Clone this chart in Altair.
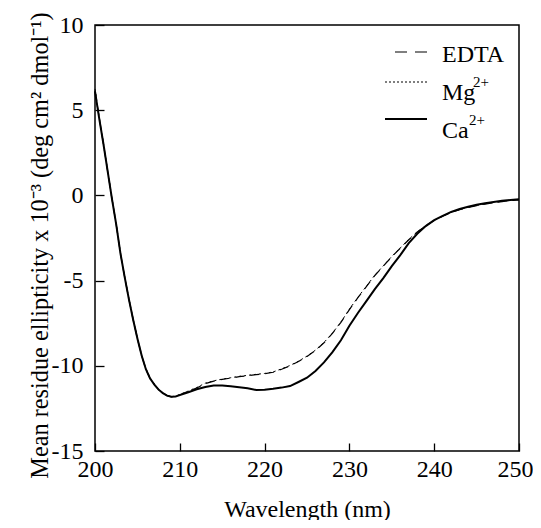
import altair as alt
import pandas as pd

# ---------------- data ----------------
wavelength = [200, 200.5, 201, 201.5, 202, 202.5, 203, 203.5, 204, 204.5,
              205, 205.5, 206, 206.5, 207, 207.5, 208, 208.5, 209, 209.5,
              210, 211, 212, 213, 214, 215, 216, 217, 218, 219,
              220, 221, 222, 223, 224, 225, 226, 227, 228, 229,
              230, 231, 232, 233, 234, 235, 236, 237, 238, 239,
              240, 241, 242, 243, 244, 245, 246, 247, 248, 249, 250]

ca = [6.1, 4.5, 3.0, 1.4, -0.2, -1.7, -3.4, -4.8, -6.1, -7.3,
      -8.4, -9.4, -10.2, -10.75, -11.1, -11.4, -11.6, -11.75, -11.82, -11.8,
      -11.72, -11.55, -11.38, -11.24, -11.16, -11.15, -11.2, -11.26, -11.32, -11.42,
      -11.4, -11.35, -11.28, -11.19, -10.95, -10.7, -10.3, -9.8, -9.2, -8.5,
      -7.65, -6.9, -6.2, -5.5, -4.85, -4.15, -3.5, -2.8, -2.25, -1.8,
      -1.45, -1.2, -0.97, -0.8, -0.67, -0.55, -0.46, -0.39, -0.32, -0.27, -0.23]

edta = [6.15, 4.55, 3.0, 1.4, -0.2, -1.7, -3.4, -4.8, -6.1, -7.3,
        -8.4, -9.4, -10.2, -10.75, -11.1, -11.4, -11.6, -11.75, -11.82, -11.8,
        -11.7, -11.5, -11.3, -11.05, -10.9, -10.8, -10.72, -10.64, -10.58, -10.52,
        -10.47, -10.38, -10.2, -10.0, -9.75, -9.45, -9.1, -8.65, -8.1, -7.45,
        -6.7, -6.0, -5.35, -4.7, -4.15, -3.6, -3.1, -2.6, -2.15, -1.78,
        -1.47, -1.22, -1.0, -0.84, -0.71, -0.6, -0.51, -0.43, -0.36, -0.3, -0.26]

mg = [6.25, 4.6, 3.05, 1.45, -0.15, -1.65, -3.35, -4.75, -6.05, -7.25,
      -8.35, -9.35, -10.15, -10.7, -11.08, -11.38, -11.58, -11.74, -11.8, -11.78,
      -11.68, -11.48, -11.27, -11.02, -10.88, -10.78, -10.7, -10.62, -10.56, -10.5,
      -10.45, -10.36, -10.18, -9.98, -9.73, -9.43, -9.08, -8.63, -8.08, -7.43,
      -6.68, -5.98, -5.33, -4.68, -4.13, -3.58, -3.08, -2.58, -2.14, -1.77,
      -1.46, -1.21, -0.99, -0.83, -0.7, -0.59, -0.5, -0.42, -0.35, -0.3, -0.25]

series_names = ["EDTA", "Mg", "Ca"]
legend_base = ["EDTA", "Mg", "Ca"]
legend_sup = ["", "2+", "2+"]

x_ticks = [200, 210, 220, 230, 240, 250]
y_ticks = [10, 5, 0, -5, -10, -15]

FONT = "Liberation Serif"

df_edta = pd.DataFrame({"wl": wavelength, "v": edta})
df_mg = pd.DataFrame({"wl": wavelength, "v": mg})
df_ca = pd.DataFrame({"wl": wavelength, "v": ca})

x_enc = alt.X(
    "wl:Q",
    scale=alt.Scale(domain=[200, 250], nice=False, zero=False),
    axis=alt.Axis(
        values=x_ticks, offset=-8, tickSize=8, tickWidth=1.3, tickColor="black",
        domain=False, grid=False, labelFont=FONT, labelFontSize=24,
        labelColor="black", labelPadding=6, labelFlush=False,
        labelOffset={"condition": {"test": "datum.value == 250", "value": -4}, "value": 0},
        labelExpr="'' + datum.value",
        title="Wavelength (nm)", titleFont=FONT, titleFontSize=24,
        titleFontWeight="normal", titleColor="black",
        titleY=73, titleBaseline="alphabetic",
    ),
)
y_enc = alt.Y(
    "v:Q",
    scale=alt.Scale(domain=[-15, 10], nice=False, zero=False),
    axis=alt.Axis(
        values=y_ticks, offset=-9, tickSize=9, tickWidth=1.3, tickColor="black",
        domain=False, grid=False, labelFont=FONT, labelFontSize=24,
        labelColor="black", labelPadding=12, labelFlush=False,
        labelExpr="'' + datum.value",
        title="Mean residue ellipticity x 10\u207b\u00b3 (deg cm\u00b2 dmol\u207b\u00b9)",
        titleFont=FONT, titleFontSize=24.3, titleFontWeight="normal",
        titleColor="black", titleAngle=270, titleX=-57, titleY=220,
        titleAlign="center", titleBaseline="alphabetic",
    ),
)

l_edta = alt.Chart(df_edta).mark_line(color="black", strokeWidth=1.2, strokeDash=[9, 6]).encode(x=x_enc, y=y_enc)
l_mg = alt.Chart(df_mg).mark_line(color="black", strokeWidth=1.0, strokeDash=[2, 3]).encode(x="wl:Q", y="v:Q")
l_ca = alt.Chart(df_ca).mark_line(color="black", strokeWidth=2.0).encode(x="wl:Q", y="v:Q")

# ---------------- legend (drawn manually) ----------------
leg_edta = alt.Chart(pd.DataFrame({"s": [series_names[0]]})).mark_rule(
    color="black", strokeWidth=1.2, strokeDash=[12, 8]).encode(
    x=alt.value(300), x2=alt.value(332), y=alt.value(27))
leg_mg = alt.Chart(pd.DataFrame({"s": [series_names[1]]})).mark_rule(
    color="black", strokeWidth=1.2, strokeDash=[2, 2]).encode(
    x=alt.value(290), x2=alt.value(332), y=alt.value(57))
leg_ca = alt.Chart(pd.DataFrame({"s": [series_names[2]]})).mark_rule(
    color="black", strokeWidth=2.2).encode(
    x=alt.value(290), x2=alt.value(332), y=alt.value(94))

def txt(label, x, y, size):
    return alt.Chart(pd.DataFrame({"t": [label]})).mark_text(
        font=FONT, fontSize=size, color="black", align="left",
        baseline="alphabetic").encode(text="t:N", x=alt.value(x), y=alt.value(y))

t1 = txt(legend_base[0], 347, 37, 24)
t2 = txt(legend_base[1], 347, 75, 24)
t2s = txt(legend_sup[1], 378, 62, 15)
t3 = txt(legend_base[2], 347, 113, 24)
t3s = txt(legend_sup[2], 374, 100, 15)

chart = alt.layer(
    l_edta, l_mg, l_ca, leg_edta, leg_mg, leg_ca, t1, t2, t2s, t3, t3s
).properties(
    width=424, height=426,
    autosize=alt.AutoSizeParams(type="none"),
    padding={"left": 87, "top": 17, "right": 14, "bottom": 69},
    background="white",
).configure_view(stroke="black", strokeWidth=1.5)

chart.save("out.html", embed_options={"renderer": "svg", "actions": False})
